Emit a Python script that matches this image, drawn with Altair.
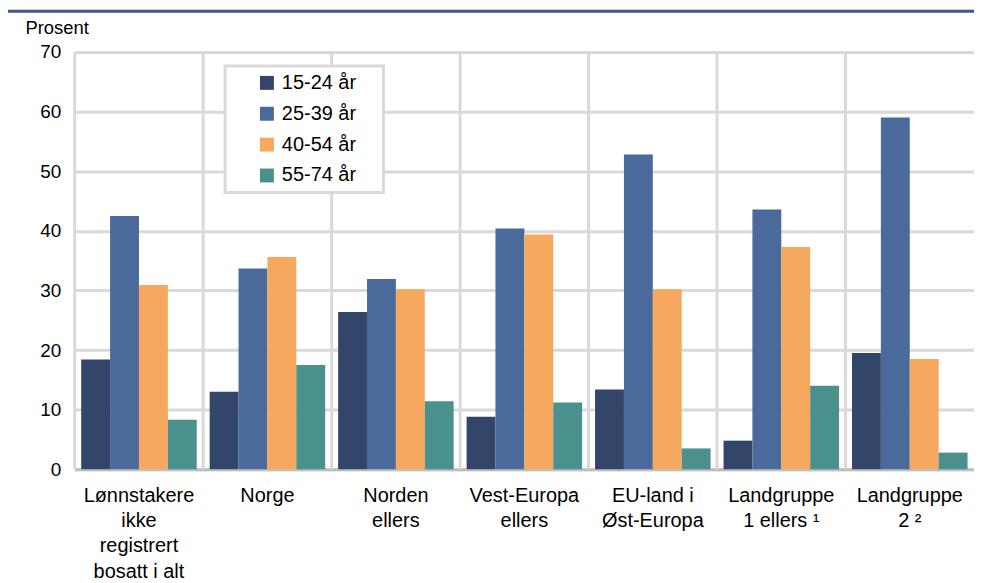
import altair as alt
import pandas as pd

categories = [
    "Lønnstakere|ikke|registrert|bosatt i alt",
    "Norge",
    "Norden|ellers",
    "Vest-Europa|ellers",
    "EU-land i|Øst-Europa",
    "Landgruppe|1 ellers ¹",
    "Landgruppe|2 ²",
]
groups = ["15-24 år", "25-39 år", "40-54 år", "55-74 år"]
colors = ["#33466a", "#4a6a9c", "#f6a95e", "#4a918d"]

v_15_24 = [18.4, 13.0, 26.4, 8.8, 13.4, 4.8, 19.5]
v_25_39 = [42.5, 33.7, 31.9, 40.4, 52.8, 43.6, 59.0]
v_40_54 = [30.9, 35.6, 30.2, 39.4, 30.2, 37.3, 18.5]
v_55_74 = [8.3, 17.5, 11.4, 11.2, 3.5, 14.0, 2.8]

series = [v_15_24, v_25_39, v_40_54, v_55_74]
rows = []
for g, vals in zip(groups, series):
    for c, v in zip(categories, vals):
        rows.append({"Kategori": c, "Gruppe": g, "Prosent": v})
df = pd.DataFrame(rows)
cat_df = pd.DataFrame({"Kategori": categories})
one = pd.DataFrame({"k": [0]})

W, H = 903, 419
FONT = "Liberation Sans"

x_axis = alt.Axis(
    title=None, grid=False, ticks=False, labelAngle=0, labelAlign="center",
    labelFontSize=20, labelColor="black", labelFont=FONT,
    labelExpr="split(datum.label, '|')", labelLineHeight=25.5,
    labelPadding=26, domainColor="#bfbfbf", domainWidth=3,
    labelLimit=200,
)

grid_rules = alt.Chart(cat_df).mark_rule(color="#d9d9d9", strokeWidth=3).encode(
    x=alt.X("Kategori:N", sort=categories, bandPosition=0, title=None),
    y=alt.value(0),
    y2=alt.value(H),
)

bars = alt.Chart(df).mark_bar().encode(
    x=alt.X("Kategori:N", sort=categories, axis=x_axis,
            scale=alt.Scale(paddingInner=0, paddingOuter=0)),
    xOffset=alt.XOffset("Gruppe:N", sort=groups,
                        scale=alt.Scale(paddingInner=0, paddingOuter=0.224)),
    y=alt.Y("Prosent:Q",
            scale=alt.Scale(domain=[0, 70], nice=False),
            axis=alt.Axis(values=[0, 10, 20, 30, 40, 50, 60, 70],
                          title="Prosent", titleAngle=0, titleAlign="left",
                          titleX=-50, titleY=-15, titleBaseline="bottom",
                          titleFontSize=18.5, titleFontWeight="normal",
                          titleFont=FONT, titleColor="black",
                          labelFontSize=19, labelFont=FONT, labelColor="black",
                          labelPadding=14, ticks=False, domain=False,
                          gridColor="#d9d9d9", gridWidth=3)),
    color=alt.Color("Gruppe:N", sort=groups,
                    scale=alt.Scale(domain=groups, range=colors),
                    legend=alt.Legend(title="\u00a0", titleOrient="right",
                                      titlePadding=21, titleFontSize=1,
                                      orient="none",
                                      legendX=151, legendY=14,
                                      symbolType="square", symbolSize=196,
                                      symbolStrokeWidth=0, symbolOffset=25,
                                      labelFontSize=20, labelFont=FONT,
                                      labelColor="black", rowPadding=11,
                                      padding=7, labelOffset=5,
                                      fillColor="white", strokeColor="#d9d9d9")),
)

top_line = alt.Chart(one).mark_rule(color="#3d5688", strokeWidth=3).encode(
    x=alt.value(-67), x2=alt.value(W), y=alt.value(-41),
)

chart = alt.layer(top_line, grid_rules, bars).properties(
    width=W, height=H,
    autosize=alt.AutoSizeParams(type="none"),
    padding={"left": 67, "top": 43, "right": 0, "bottom": 112},
).configure_view(stroke=None).configure_legend(strokeWidth=3)

chart.save("out.html", embed_options={"renderer": "svg", "actions": False})
